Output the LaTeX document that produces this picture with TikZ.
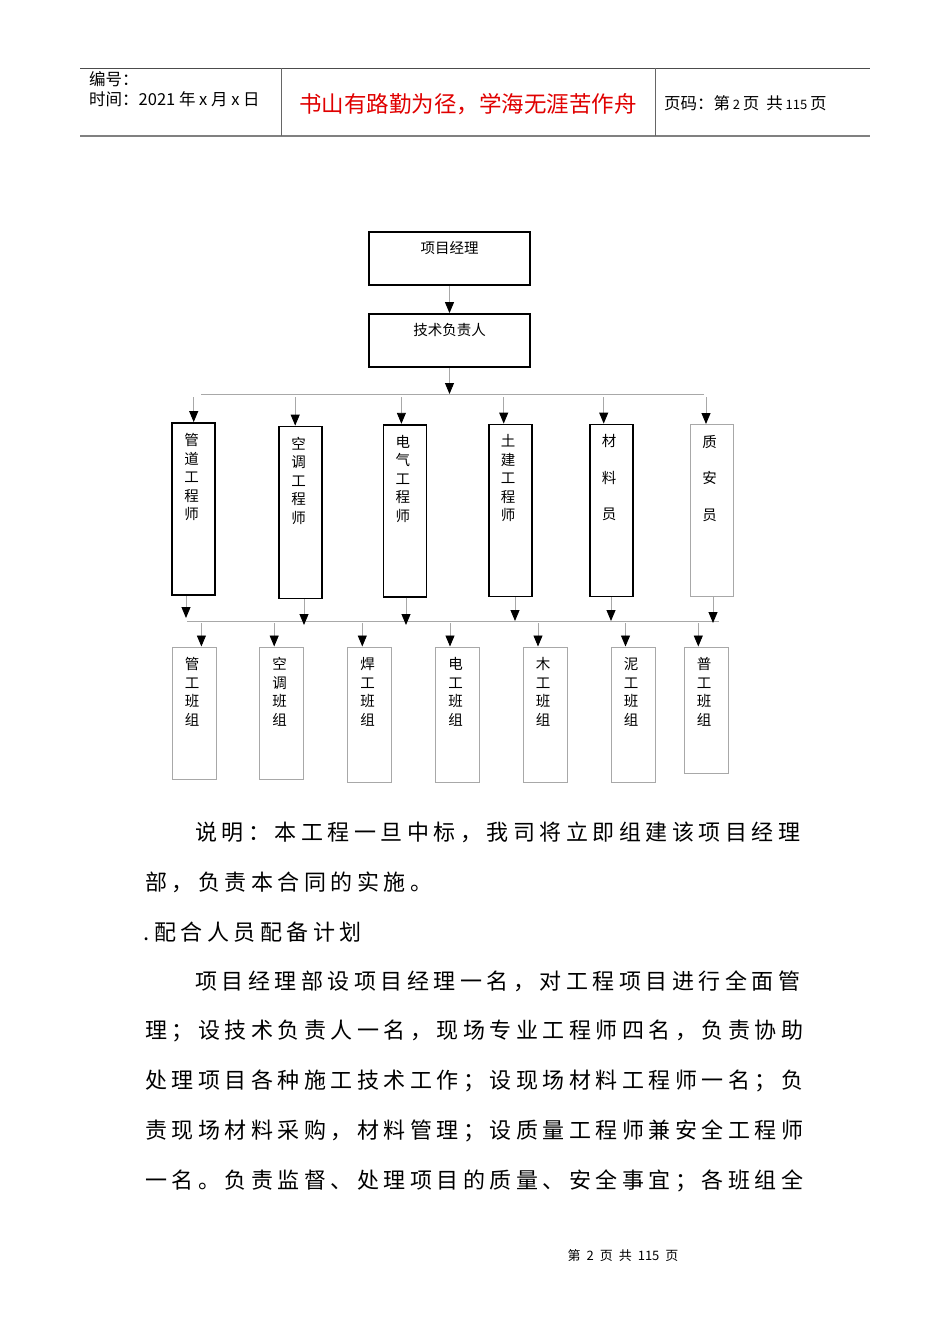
\documentclass[tikz,border=0pt]{standalone}
\usepackage{fontspec}
\setmainfont{Noto Sans CJK SC}
\newfontfamily\cjk{Noto Sans CJK SC}
\newfontfamily\bodyfont[LetterSpace=20.5]{Noto Sans CJK SC}
\usetikzlibrary{arrows.meta}
\definecolor{lgray}{HTML}{A8A8A8}
\definecolor{hred}{HTML}{E00000}
\newcommand{\smd}[1]{{\fontsize{13}{13}\selectfont #1}}
\begin{document}
\begin{tikzpicture}[x=1pt,y=-1pt,
  conn/.style={draw=lgray, line width=0.9pt, -{Triangle[width=9pt,length=11pt,color=black]}},
  bus/.style={draw=lgray, line width=1pt},
  topbox/.style={rectangle, draw=black, line width=1.8pt, inner sep=0pt, minimum width=161pt, minimum height=53pt},
  engbox/.style={rectangle, draw=black, line width=1.8pt, inner sep=0pt, minimum width=43pt, minimum height=172pt},
  engthin/.style={rectangle, draw=lgray, line width=1pt, inner sep=0pt, minimum width=43pt, minimum height=172pt},
  teambox/.style={rectangle, draw=lgray, line width=1pt, inner sep=0pt, minimum width=44pt},
  toplab/.style={anchor=north, inner sep=0pt, yshift=-10pt, font=\fontsize{14.5}{14.5}\selectfont},
  vlab/.style={anchor=north, inner sep=0pt, yshift=-11pt, xshift=-2pt, align=center, font=\fontsize{14.5}{18.5}\selectfont},
  vlabw/.style={anchor=north, inner sep=0pt, yshift=-11pt, xshift=-2pt, align=center, font=\fontsize{14.5}{36.5}\selectfont},
  body/.style={anchor=west, inner sep=0pt, font=\bodyfont\fontsize{22}{22}\selectfont},
  head/.style={anchor=west, inner sep=0pt, font=\fontsize{16.5}{16.5}\selectfont}
]
\useasboundingbox (0,0) rectangle (950,1344);
\fill[white] (0,0) rectangle (950,1344);

% header
\draw[draw=black!70, line width=1pt] (80,68) -- (870,68);
\draw[draw=black!50, line width=1.6pt] (80,136) -- (870,136);
\draw[draw=black!60, line width=1pt] (281,68) -- (281,136);
\draw[draw=black!60, line width=1pt] (655,68) -- (655,136);
\node[head] (h1) at (89,79) {编号：};
\node[head] (h2) at (89,99) {时间：2021 年 x 月 x 日};
\node[inner sep=0pt, text=hred, font=\fontsize{22.5}{22.5}\selectfont] (h3) at (468,104) {书山有路勤为径，学海无涯苦作舟};
\node[head] (h4) at (664,103) {页码：第\,\smd{2}\,页\hspace{7pt}共\,\smd{115}\,页};

% top boxes
\node[topbox, label={[toplab]north:项目经理}] (pm) at (449.5,258.5) {};
\node[topbox, label={[toplab]north:技术负责人}] (tech) at (449.5,340.5) {};
\draw[conn] (pm.south) -- (tech.north);

% engineer level
\node[engbox, label={[vlab]north:{管\\道\\工\\程\\师}}] (e1) at (193.5,509) {};
\node[engbox, label={[vlab]north:{空\\调\\工\\程\\师}}] (e2) at (300.7,512.5) {};
\node[engbox, label={[vlab]north:{电\\气\\工\\程\\师}}] (e3) at (404.9,510.7) {};
\node[engbox, label={[vlab]north:{土\\建\\工\\程\\师}}] (e4) at (510.1,510.5) {};
\node[engbox, label={[vlabw]north:{材\\料\\员}}] (e5) at (611.2,510.5) {};
\node[engthin, label={[vlabw]north:{质\\安\\员}}] (e6) at (711.7,510.5) {};

\coordinate (bl) at (201,394);
\coordinate (br) at (704,394);
\draw[bus] (bl) -- (br);
\draw[conn] (tech.south) -- (tech.south |- bl);
\coordinate (d1) at (193.7,397);
\coordinate (d2) at (295.2,397);
\coordinate (d3) at (401.4,397);
\coordinate (d4) at (503.7,397);
\coordinate (d5) at (603.7,397);
\coordinate (d6) at (706,397);
\draw[conn] (d1) -- (d1 |- e1.north);
\draw[conn] (d2) -- (d2 |- e2.north);
\draw[conn] (d3) -- (d3 |- e3.north);
\draw[conn] (d4) -- (d4 |- e4.north);
\draw[conn] (d5) -- (d5 |- e5.north);
\draw[conn] (d6) -- (d6 |- e6.north);

% lower bus
\coordinate (cl) at (187,621);
\coordinate (cr) at (719,621);
\draw[bus] (cl) -- (cr);
\coordinate (u1) at (186,618);
\coordinate (u2) at (304,625);
\coordinate (u3) at (406,625);
\coordinate (u4) at (515,621);
\coordinate (u5) at (611,621);
\coordinate (u6) at (713,623);
\draw[conn] (u1 |- e1.south) -- (u1);
\draw[conn] (u2 |- e2.south) -- (u2);
\draw[conn] (u3 |- e3.south) -- (u3);
\draw[conn] (u4 |- e4.south) -- (u4);
\draw[conn] (u5 |- e5.south) -- (u5);
\draw[conn] (u6 |- e6.south) -- (u6);

% team boxes
\node[teambox, minimum height=132pt, label={[vlab]north:{管\\工\\班\\组}}] (t1) at (194,713) {};
\node[teambox, minimum height=132pt, label={[vlab]north:{空\\调\\班\\组}}] (t2) at (281.7,713) {};
\node[teambox, minimum height=135pt, label={[vlab]north:{焊\\工\\班\\组}}] (t3) at (369.5,714.5) {};
\node[teambox, minimum height=135pt, label={[vlab]north:{电\\工\\班\\组}}] (t4) at (457.5,714.5) {};
\node[teambox, minimum height=135pt, label={[vlab]north:{木\\工\\班\\组}}] (t5) at (545,714.5) {};
\node[teambox, minimum height=135pt, label={[vlab]north:{泥\\工\\班\\组}}] (t6) at (633,714.5) {};
\node[teambox, minimum height=126pt, label={[vlab]north:{普\\工\\班\\组}}] (t7) at (706,710) {};

\coordinate (v1) at (201.4,623);
\coordinate (v2) at (274.2,623);
\coordinate (v3) at (362.3,623);
\coordinate (v4) at (450,623);
\coordinate (v5) at (538,623);
\coordinate (v6) at (625.5,623);
\coordinate (v7) at (698.3,623);
\draw[conn] (v1) -- (v1 |- t1.north);
\draw[conn] (v2) -- (v2 |- t2.north);
\draw[conn] (v3) -- (v3 |- t3.north);
\draw[conn] (v4) -- (v4 |- t4.north);
\draw[conn] (v5) -- (v5 |- t5.north);
\draw[conn] (v6) -- (v6 |- t6.north);
\draw[conn] (v7) -- (v7 |- t7.north);

% body text
\node[body] (p1) at (195,832) {说明：本工程一旦中标，我司将立即组建该项目经理};
\node[body] (p2) at (145,882) {部，负责本合同的实施。};
\node[body] (p3) at (143,932) {.\hspace{5pt}配合人员配备计划};
\node[body] (p4) at (195,981) {项目经理部设项目经理一名，对工程项目进行全面管};
\node[body] (p5) at (145,1031) {理；设技术负责人一名，现场专业工程师四名，负责协助};
\node[body] (p6) at (145,1081) {处理项目各种施工技术工作；设现场材料工程师一名；负};
\node[body] (p7) at (145,1131) {责现场材料采购，材料管理；设质量工程师兼安全工程师};
\node[body] (p8) at (145,1181) {一名。负责监督、处理项目的质量、安全事宜；各班组全};

% footer
\node[inner sep=0pt, font=\fontsize{13}{13}\selectfont] (ft) at (623,1256) {第\hspace{6pt}2\hspace{6pt}页\hspace{6pt}共\hspace{6pt}115\hspace{6pt}页};
\end{tikzpicture}
\end{document}
